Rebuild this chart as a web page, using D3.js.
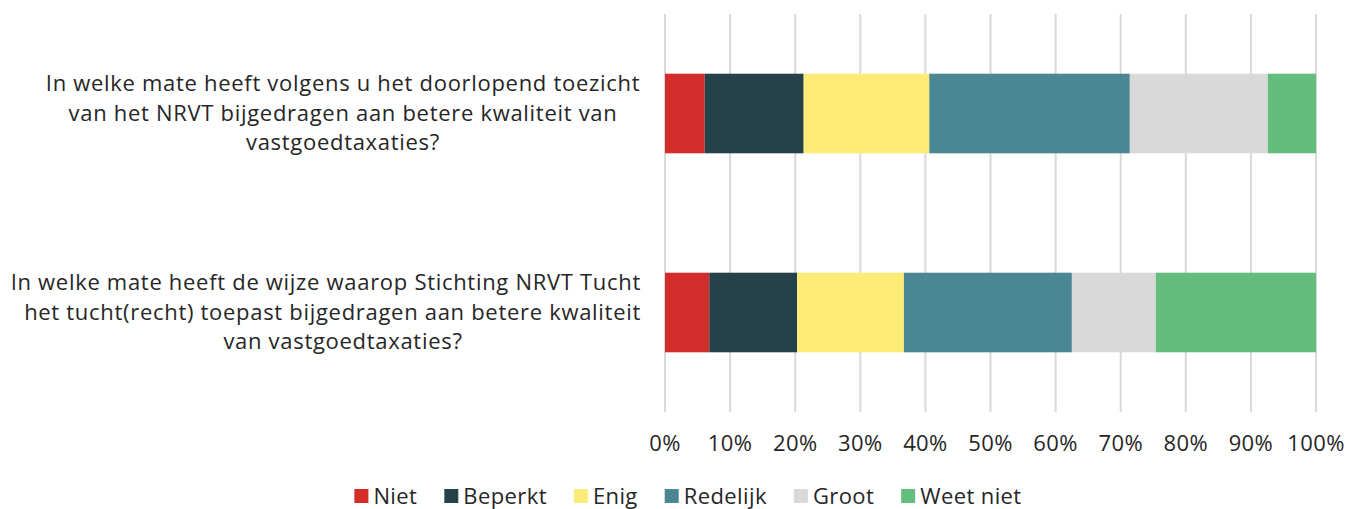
<!DOCTYPE html>
<html>
<head>
<meta charset="utf-8">
<script src="https://cdn.jsdelivr.net/npm/d3@7"></script>
<style>
  body { margin: 0; background: #fff; }
  svg text { font-family: "Open Sans", Lato, sans-serif; fill: #262626; font-variant-ligatures: none; letter-spacing: 0.4px; }
  svg text.question { letter-spacing: 0.7px; }
</style>
</head>
<body>
<script>
const questions = [
  ["In welke mate heeft volgens u het doorlopend toezicht", "van het NRVT bijgedragen aan betere kwaliteit van", "vastgoedtaxaties?"],
  ["In welke mate heeft de wijze waarop Stichting NRVT Tucht", "het tucht(recht) toepast bijgedragen aan betere kwaliteit", "van vastgoedtaxaties?"]
]
const answers = ["Niet", "Beperkt", "Enig", "Redelijk", "Groot", "Weet niet"]
const colors = ["#d22d2a", "#25424a", "#fceb76", "#4a8693", "#d9d9d9", "#63be7e"]
const shares = [
  [6.1, 15.2, 19.3, 30.8, 21.2, 7.4],
  [6.8, 13.5, 16.4, 25.8, 12.9, 24.6]
]
const ticks = [0, 10, 20, 30, 40, 50, 60, 70, 80, 90, 100]

const width = 1349, height = 509
const margin = { top: 14, right: 33, bottom: 97, left: 665 }

const svg = d3.select("body").append("svg")
    .attr("width", width)
    .attr("height", height)

const x = d3.scaleLinear()
    .domain([0, 100])
    .range([margin.left, width - margin.right])

const y = d3.scaleBand()
    .domain(d3.range(questions.length))
    .range([margin.top, height - margin.bottom])
    .paddingInner(0.6)
    .paddingOuter(0.3)

// gridlines
svg.append("g")
    .selectAll("line")
    .data(ticks)
    .join("line")
    .attr("x1", d => x(d)).attr("x2", d => x(d))
    .attr("y1", margin.top).attr("y2", height - margin.bottom)
    .attr("stroke", "#d9d9d9")
    .attr("stroke-width", 2)

// stacked bars
const rows = shares.map((vals, i) => {
    let acc = 0
    return vals.map((v, j) => {
        const seg = { row: i, k: j, x0: acc, x1: acc + v }
        acc += v
        return seg
    })
})

svg.append("g")
    .selectAll("g")
    .data(rows)
    .join("g")
    .selectAll("rect")
    .data(d => d)
    .join("rect")
    .attr("x", d => x(d.x0))
    .attr("width", d => x(d.x1) - x(d.x0))
    .attr("y", d => y(d.row))
    .attr("height", y.bandwidth())
    .attr("fill", d => colors[d.k])

// x axis labels
svg.append("g")
    .selectAll("text")
    .data(ticks)
    .join("text")
    .attr("x", d => x(d))
    .attr("y", 451)
    .attr("text-anchor", "middle")
    .style("font-size", "22px")
    .text(d => d + "%")

// category labels
const labelCenter = 343, labelRight = 641, lineGap = 29.5
questions.forEach((lines, i) => {
    const cy = y(i) + y.bandwidth() / 2
    lines.forEach((line, j) => {
        const t = svg.append("text")
            .attr("class", "question")
            .attr("y", cy + (j - 1) * lineGap + 7)
            .attr("text-anchor", "middle")
            .style("font-size", "22px")
            .text(line)
        const w = t.node().getComputedTextLength()
        let cx = labelCenter
        if (cx + w / 2 > labelRight) cx = labelRight - w / 2
        t.attr("x", cx)
    })
})

// legend
const legend = svg.append("g")
const items = legend.selectAll("g")
    .data(answers)
    .join("g")
items.append("rect")
    .attr("width", 14).attr("height", 14)
    .attr("y", 489)
    .attr("fill", (d, i) => colors[i])
items.append("text")
    .attr("x", 19)
    .attr("y", 504)
    .style("font-size", "22px")
    .text(d => d)

let pos = 0
const offsets = []
items.each(function() {
    offsets.push(pos)
    pos += 19 + this.querySelector("text").getComputedTextLength() + 27
})
const total = pos - 27
const start = 688 - total / 2
items.attr("transform", (d, i) => `translate(${start + offsets[i]},0)`)
</script>
</body>
</html>
